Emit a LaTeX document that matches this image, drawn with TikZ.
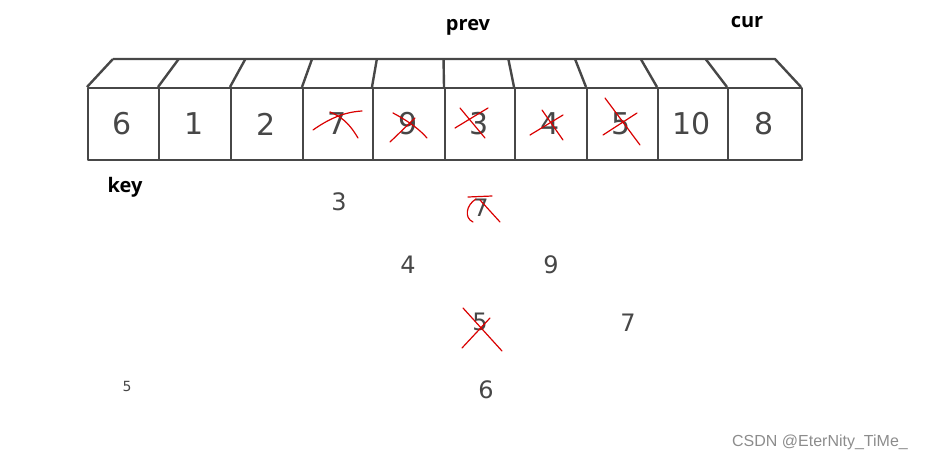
\documentclass[tikz,border=0pt]{standalone}
\usepackage{fontspec}
\setmainfont{Liberation Sans}
\newfontfamily\hand{DejaVu Sans}
\newfontfamily\lblfont{Open Sans}
\begin{document}
\begin{tikzpicture}[x=1pt,y=-1pt,
  edge/.style={draw=black!72,line width=2.4pt,line join=round},
  cross/.style={draw=red!85!black,line width=1.2pt,line cap=round},
  digit/.style={font=\hand\fontsize{30}{30}\selectfont,text=black!72},
  small/.style={font=\hand\fontsize{24}{24}\selectfont,text=black!72},
  lbl/.style={font=\lblfont\fontsize{20}{20}\selectfont\bfseries,text=black}]
\useasboundingbox (0,0) rectangle (935,464);
% front faces
\foreach \i/\xa/\xb/\v in {0/87/158/6,1/158/230/1,2/230/302/2,3/302/372/7,4/372/444/9,5/444/514/3,6/514/586/4,7/586/657/5,8/657/727/10,9/727/801/8}{
  \node[edge,minimum width={\xb-\xa},minimum height=72,inner sep=0pt,anchor=north west] (b\i) at (\xa,87) {};
  \node[digit] (n\i) at ({(\xa+\xb)/2},124) {\v};
  \draw[edge] (\xa,87) -- ({444+(\xa-444.5)*0.926},59);
}
\draw[edge] (113,59) -- (775,59) -- (801,87);
% crosses in boxes
\draw[cross] (313,130) .. controls (330,118) and (345,112) .. (362,111);
\draw[cross] (330,112) .. controls (345,118) and (352,128) .. (358,138);
\draw[cross] (390,142) -- (415,118);
\draw[cross] (393,113) .. controls (410,122) and (420,130) .. (427,138);
\draw[cross] (455,128) -- (488,108);
\draw[cross] (460,108) -- (485,138);
\draw[cross] (530,135) -- (563,115);
\draw[cross] (542,110) -- (563,140);
\draw[cross] (603,135) -- (637,113);
\draw[cross] (605,98) -- (640,145);
% labels
\node[lbl] (prev) at (468,27) {prev};
\node[lbl] (cur) at (747,22) {cur};
\node[lbl] (key) at (125,187) {key};
% loose numbers
\node[small] (t3) at (339,202) {3};
\node[small] (t7) at (481,208) {7};
\node[small] (t4) at (408,265) {4};
\node[small] (t9) at (551,265) {9};
\node[small] (t5) at (480,322) {5};
\node[small] (t7b) at (628,323) {7};
\node[small,font=\hand\fontsize{14}{14}\selectfont] (t5b) at (127,386) {5};
\node[small] (t6) at (486,390) {6};
% lower crosses
\draw[cross] (468,197) -- (492,196);
\draw[cross] (476,199) .. controls (466,205) and (464,218) .. (473,222);
\draw[cross] (480,200) -- (500,222);
\draw[cross] (463,308) -- (502,351);
\draw[cross] (462,348) -- (490,318);
% watermark
\node[font=\fontsize{16}{16}\selectfont,text=black!45] (wm) at (820,442) {CSDN @EterNity\_TiMe\_};
\end{tikzpicture}
\end{document}
